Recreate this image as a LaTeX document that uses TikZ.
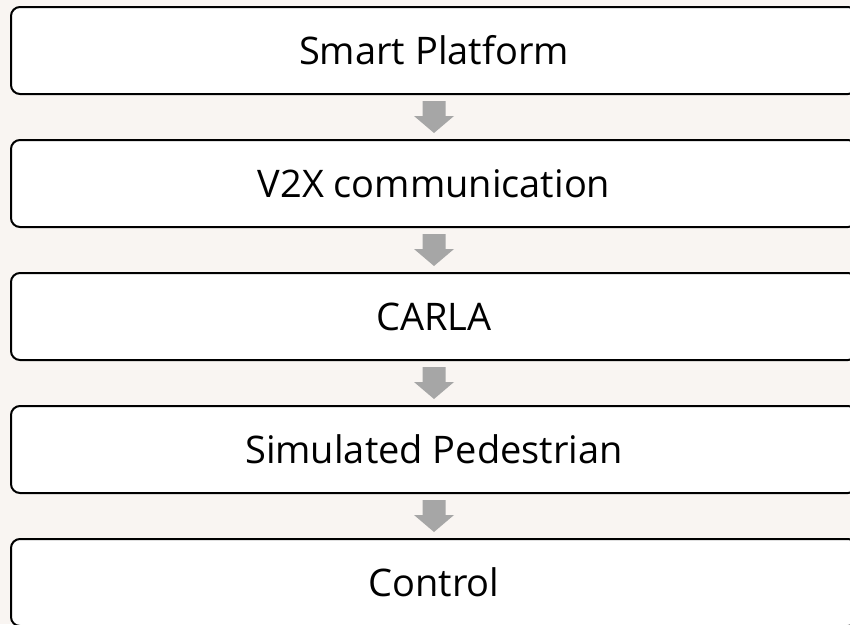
\documentclass[tikz,border=0pt]{standalone}
\usepackage{fontspec}
\setmainfont{Open Sans}
\usetikzlibrary{positioning,calc}
\definecolor{bgtone}{RGB}{249,245,242}
\definecolor{arrowgray}{RGB}{166,166,166}

\begin{document}
\begin{tikzpicture}[x=1pt,y=1pt]
    %%%%% THE PAGE
    \fill[bgtone] (0,0) rectangle (850,-624);
    \clip (0,0) rectangle (850,-624);
    %%%%% THE STAGES
    \begin{scope}[node distance=46pt, every node/.style={draw=black, line width=2pt, fill=white,
        rounded corners=9pt, minimum width=846pt, minimum height=87pt, inner sep=0pt, outer sep=0pt,
        font=\fontsize{38}{45}\selectfont}]
      \node (PLAT) at (434,-50.5) {Smart Platform};
      \node (VTX) [below=of PLAT] {V2X communication};
      \node (CARLA) [below=of VTX] {CARLA};
      \node (PED) [below=of CARLA] {Simulated Pedestrian};
      \node (CTRL) [below=of PED] {Control};
    \end{scope}
    %%%%% BLOCK ARROWS BETWEEN THE STAGES
    \foreach \up/\down in {PLAT/VTX, VTX/CARLA, CARLA/PED, PED/CTRL}{
      \coordinate (MID) at ($(\up.south)!0.5!(\down.north)$);
      \fill[arrowgray] ($(MID)+(-11.5,16)$) -- ($(MID)+(11.5,16)$) -- ($(MID)+(11.5,1)$)
        -- ($(MID)+(20,1)$) -- ($(MID)+(0,-16)$) -- ($(MID)+(-20,1)$) -- ($(MID)+(-11.5,1)$) -- cycle;
    }
\end{tikzpicture}
\end{document}
